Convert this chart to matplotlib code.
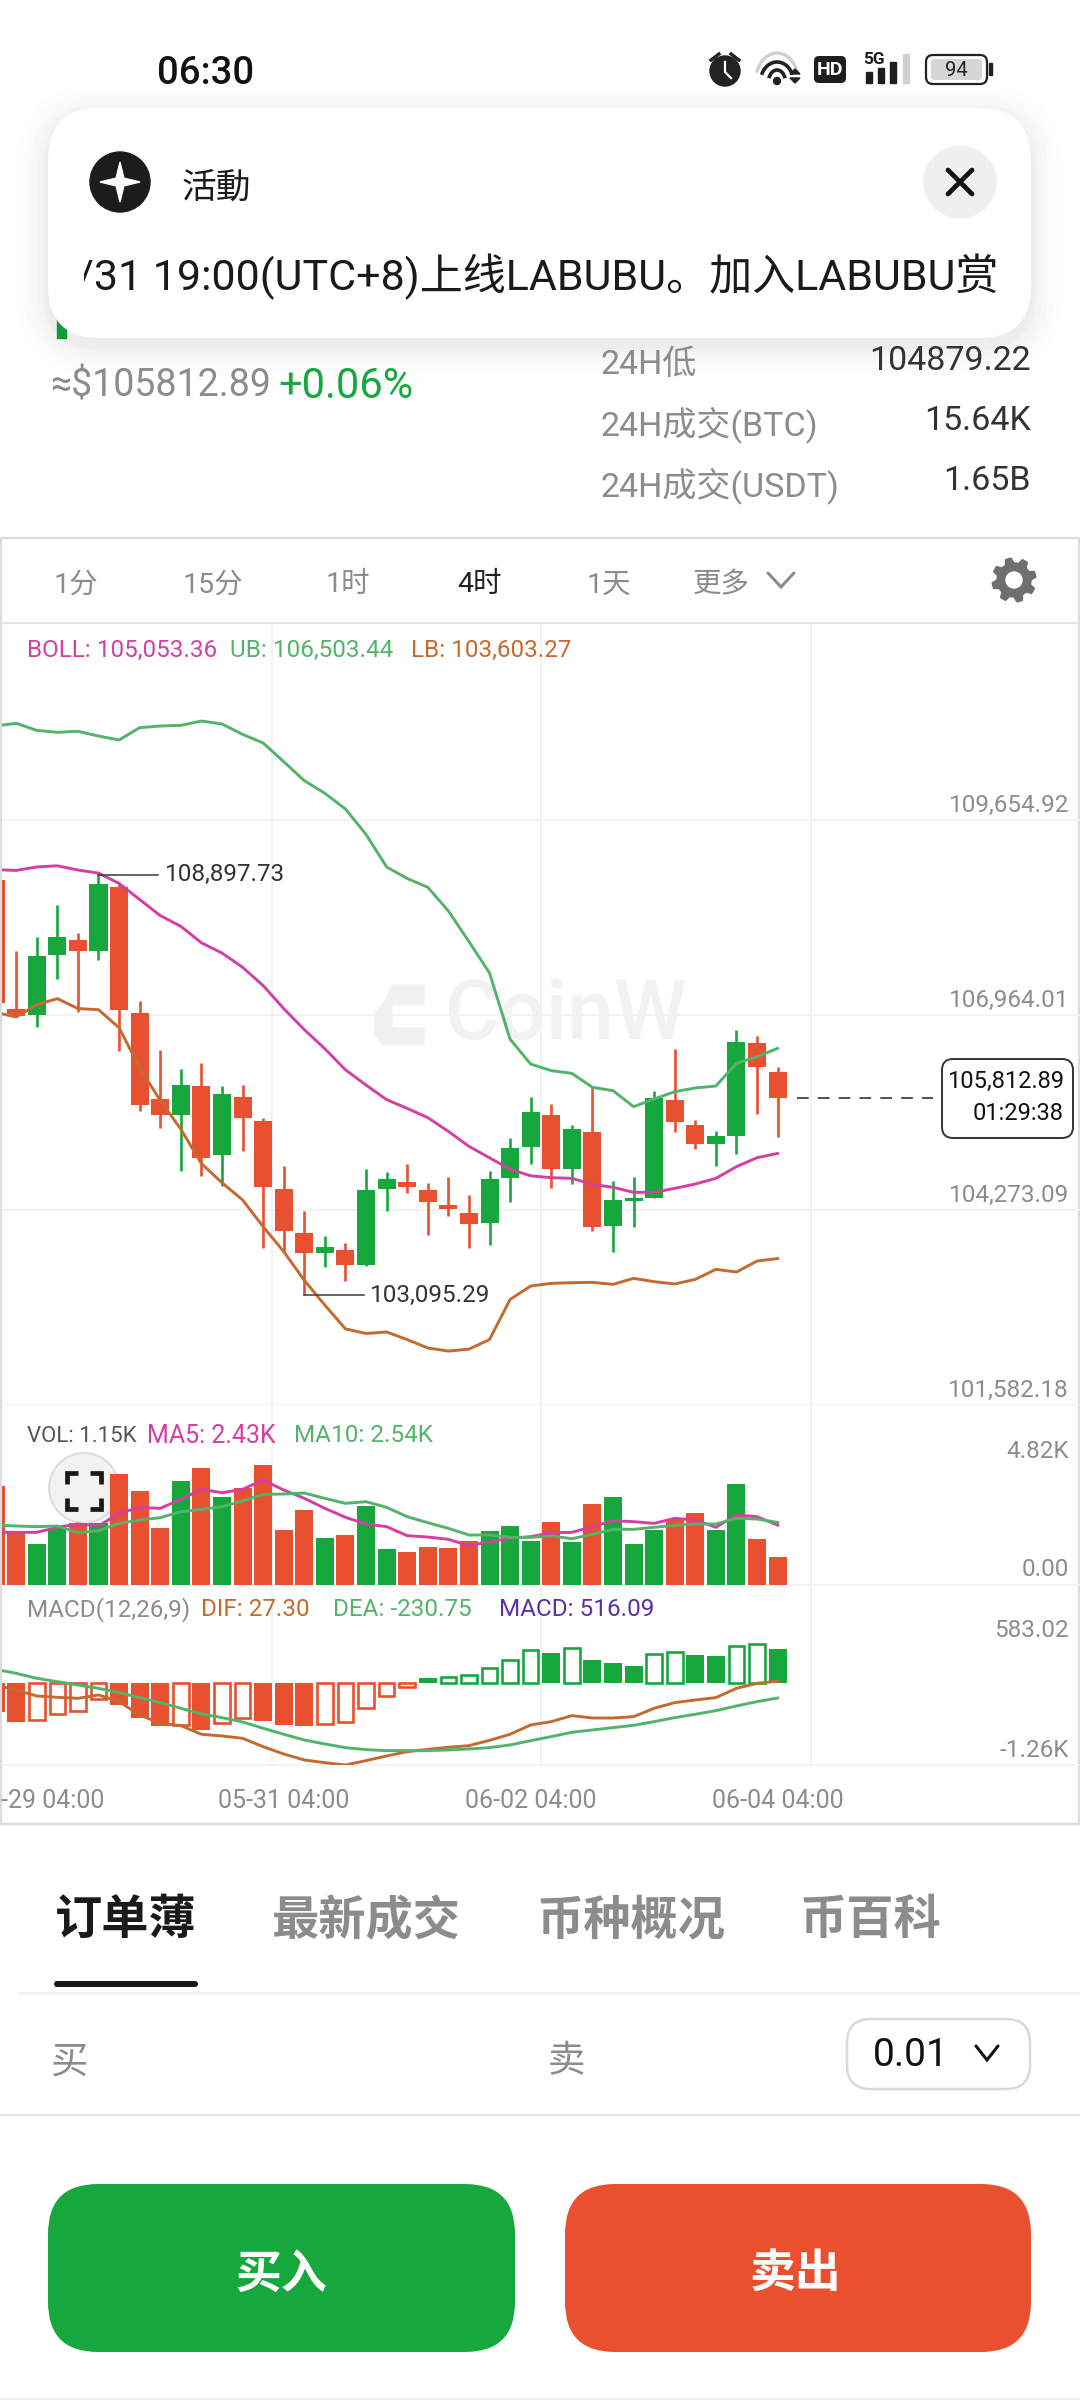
import numpy as np
import matplotlib
matplotlib.use('Agg')
import matplotlib.pyplot as plt
from matplotlib.patches import FancyBboxPatch, Circle, Polygon, Rectangle, Arc

plt.rcParams['font.family'] = ['Roboto', 'Noto Sans CJK SC', 'DejaVu Sans']

# candles, 4h
opens = [108822, 107053, 106958, 107792, 107993, 107845, 108737, 106989, 105801, 105585,
         105981, 105030, 105833, 105495, 104566, 103953, 103678, 103715, 103509, 104560,
         104666, 104550, 104344, 104238, 104090, 104719, 105136, 105584, 104839, 105349,
         104052, 104397, 104443, 105786, 105446, 105188, 105299, 106582, 106173]
highs = [108822, 107845, 108046, 108479, 108098, 108897.73, 108769, 107164, 106477, 106218,
         106298, 105981, 105997, 105548, 104882, 104264, 103921, 103816, 104845, 104798,
         104903, 104645, 104734, 104476, 104808, 105263, 105838, 105731, 105446, 105952,
         104673, 104733, 105920, 106495, 105515, 105359, 106752, 106679, 106242]
lows = [107132, 106931, 106805, 107459, 107000, 107729, 106472, 105643, 105400, 104808,
        104740, 104608, 105083, 103742, 103673, 103095.29, 103488, 103298, 103499, 104254,
        104502, 103932, 104196, 103752, 103784, 104386, 104914, 104572, 104627, 103988,
        103689, 104034, 104443, 105354, 105119, 104880, 105046, 105593, 105285]
closes = [107132, 106947, 107782, 108035, 107850, 108774, 107037, 105717, 105585, 105997,
          104993, 105870, 105537, 104587, 103985, 103684, 103763, 103509, 104550, 104703,
          104597, 104386, 104291, 104085, 104703, 105125, 105627, 104843, 105386, 104043,
          104411, 104439, 105823, 105487, 105188, 105294, 106591, 106246, 105812.89]

boll_up = [110952, 110989, 110892, 110865, 110879, 110814, 110759, 110929, 110952, 110961,
           111021, 110980, 110837, 110718, 110460, 110198, 110023, 109807, 109456, 109007,
           108848, 108727, 108400, 107977, 107544, 106630, 106287, 106196, 106159, 105966,
           105920, 105699, 105805, 105906, 105957, 105984, 106297, 106389, 106503.44]
boll_mid = [108970, 108959, 109007, 109023, 108965, 108922, 108780, 108558, 108336, 108188,
            107961, 107819, 107623, 107370, 107053, 106762, 106498, 106208, 105997, 105796,
            105675, 105548, 105358, 105152, 104993, 104835, 104745, 104719, 104710, 104627,
            104586, 104517, 104517, 104572, 104632, 104710, 104871, 104995, 105053.36]
boll_low = [107000, 106937, 107106, 107190, 107053, 107037, 106789, 106234, 105785, 105389,
            104914, 104650, 104412, 104043, 103699, 103303, 102960, 102633, 102569, 102590,
            102485, 102369, 102326, 102353, 102485, 103039, 103224, 103261, 103270, 103275,
            103247, 103330, 103284, 103252, 103316, 103454, 103417, 103569, 103603.27]

volume = [4018, 2124, 1651, 2300, 2503, 2503, 4505, 3802, 2300, 4208,
          4763, 3572, 3951, 4871, 2232, 3044, 1908, 2043, 3207, 1461,
          1353, 1542, 1488, 1799, 2205, 2408, 1799, 2544, 1759, 3274,
          3572, 1664, 2246, 2665, 2936, 2246, 4100, 1867, 1150]
vol_ma5 = [2138, 2138, 2138, 2341, 2476, 2395, 2909, 3152, 3112, 3477,
           3883, 3748, 3883, 4262, 3856, 3518, 3112, 2747, 2476, 2368,
           2002, 1948, 1854, 1597, 1759, 1894, 1962, 2124, 2138, 2368,
           2611, 2571, 2503, 2706, 2638, 2341, 2841, 2774, 2430]
vol_ma10 = [2435, 2395, 2368, 2395, 2124, 2205, 2503, 2638, 2733, 2977,
            3071, 3180, 3410, 3680, 3694, 3734, 3518, 3315, 3383, 3152,
            2774, 2530, 2300, 2030, 2030, 1935, 1935, 1989, 1881, 2057,
            2260, 2260, 2341, 2422, 2476, 2476, 2706, 2679, 2540]

macd = [-440, -594, -568, -481, -430, -251, -338, -543, -660, -650,
        -722, -620, -543, -584, -645, -660, -635, -604, -384, -200,
        -67, 72, 97, 123, 225, 353, 507, 456, 532, 353,
        302, 266, 440, 481, 435, 420, 573, 599, 516.09]
macd_hollow = [0, 0, 1, 1, 1, 1, 0, 0, 0, 1,
               0, 1, 1, 0, 0, 0, 1, 1, 1, 1,
               1, 0, 1, 1, 1, 1, 1, 0, 1, 0,
               0, 0, 1, 1, 0, 0, 1, 1, 0]
dif = [-31, -108, -200, -220, -236, -184, -287, -492, -620, -655,
       -788, -814, -850, -978, -1091, -1183, -1224, -1260, -1193, -1121,
       -1055, -1019, -988, -963, -881, -788, -645, -594, -502, -538,
       -538, -517, -389, -302, -261, -225, -82, -5, 27.30]
dea = [210, 148, 72, 20, -31, -82, -148, -225, -302, -389,
       -476, -532, -599, -696, -788, -876, -937, -993, -1024, -1039,
       -1039, -1039, -1029, -1014, -993, -952, -886, -824, -758, -722,
       -686, -650, -594, -532, -481, -425, -353, -287, -230.75]

price_ticks = [109654.92, 106964.01, 104273.09, 101582.18]
vol_ticks = [4820, 0]
vol_tick_labels = ['4.82K', '0.00']
macd_ticks = [583.02, -1260]
macd_tick_labels = ['583.02', '-1.26K']
date_idx = [14, 26, 38]
date_labels = ['05-31 04:00', '06-02 04:00', '06-04 04:00']
first_date = '-29 04:00'  # scrolled off the left edge in the app
tabs = ['1分', '15分', '1时', '4时', '1天', '更多']

GREEN = '#16a83c'
RED = '#e9502f'
C_MID = '#d4409f'
C_UP = '#52b36a'
C_LOW = '#c46a2f'
C_PURPLE = '#5b2fa6'
GRAY = '#8c8c8c'
DARK = '#333333'
GRID = '#f2f2f2'
FS = 17.5
LW = 2.1
W, H = 1080, 2400
BODY = 0.875
# candle i sits at pixel -4.4 + 20.58 * i
XL, XR = (2 + 4.4) / 20.58, (1080 + 4.4) / 20.58

fig = plt.figure(figsize=(W / 100, H / 100), dpi=100, facecolor='white')


def px_axes(x0, y0, x1, y1, z):
    a = fig.add_axes([x0 / W, 1 - y1 / H, (x1 - x0) / W, (y1 - y0) / H], zorder=z)
    a.patch.set_visible(False)
    for s in a.spines.values():
        s.set_visible(False)
    a.set_xticks([])
    a.set_yticks([])
    return a


def rbox(a, x0, y0, x1, y1, r, **kw):
    p = FancyBboxPatch((x0 + r, y0 + r), x1 - x0 - 2 * r, y1 - y0 - 2 * r,
                       boxstyle=f'round,pad={r},rounding_size={r}', **kw)
    a.add_patch(p)
    return p


def ytick(a, v, label):
    a.annotate(label, xy=(1, v), xycoords=('axes fraction', 'data'), xytext=(-11, 15),
               textcoords='offset pixels', ha='right', va='center', color=GRAY, fontsize=FS)


def chevron(a, x, y, w, h, color, lw):
    a.plot([x - w, x, x + w], [y - h, y + h, y - h], color=color, lw=lw, solid_capstyle='round',
           solid_joinstyle='miter')


ui = px_axes(0, 0, W, H, 0)
ui.set_xlim(0, W)
ui.set_ylim(H, 0)
top = px_axes(0, 0, W, H, 5)
top.set_xlim(0, W)
top.set_ylim(H, 0)

# ---------- page under the chart ----------
ui.add_patch(Rectangle((57, 318), 9, 20, color=GREEN))
ui.plot([1, 1079, 1079, 1, 1], [538, 538, 1824, 1824, 538], color='#dcdcdc', lw=1.6)
ui.plot([1, 1079], [623, 623], color='#e2e2e2', lw=1.4)
for gx in [272, 541, 811]:
    ui.plot([gx, gx], [625, 1765], color=GRID, lw=1.4)
for gy in [1585, 1765]:
    ui.plot([2, 1079], [gy, gy], color=GRID, lw=1.4)

# watermark
ui.add_patch(Polygon([(424, 985), (392, 985), (384, 1003), (375, 1012), (375, 1036), (384, 1045), (424, 1045),
                      (424, 1028), (392, 1028), (392, 1005), (424, 1005)], closed=True, color='#f1f1f1'))
ui.text(445, 1016, 'CoinW', fontsize=60, color='#f2f2f2', ha='left', va='center', fontweight='medium')

# fullscreen button sits under the volume bars
ui.add_patch(Circle((84, 1488), 35, facecolor='#f2f2f2', edgecolor='#dcdcdc', lw=1.4))

# ---------- kline ----------
ax = px_axes(2, 625, 1080, 1405, 1)
ax.set_xlim(XL, XR)
ax.set_ylim(101582.18, 112346)
idx = np.arange(len(closes))
opens, highs, lows, closes = map(np.array, (opens, highs, lows, closes))
cols = [GREEN if c >= o else RED for o, c in zip(opens, closes)]
for v in price_ticks:
    ax.axhline(v, color=GRID, lw=1.4, zorder=0)
    ytick(ax, v, f'{v:,.2f}')
ax.vlines(idx, lows, highs, colors=cols, lw=1.9, zorder=2)
ax.bar(idx, np.abs(closes - opens), BODY, bottom=np.minimum(opens, closes), color=cols, zorder=3)
ax.plot(idx, boll_up, color=C_UP, lw=LW, zorder=4, solid_joinstyle='round')
ax.plot(idx, boll_mid, color=C_MID, lw=LW, zorder=4, solid_joinstyle='round')
ax.plot(idx, boll_low, color=C_LOW, lw=LW, zorder=4, solid_joinstyle='round')

# high / low marks
hi = int(np.argmax(highs))
lo = int(np.argmin(lows))
ax.plot([hi, hi + 2.89], [highs[hi]] * 2, color='#3a3a3a', lw=1.1, zorder=5)
ax.text(hi + 3.23, highs[hi], f'{highs[hi]:,.2f}', color='#333333', fontsize=FS, va='center', ha='left')
ax.plot([lo, lo + 2.9], [lows[lo]] * 2, color='#3a3a3a', lw=1.1, zorder=5)
ax.text(lo + 3.2, lows[lo], f'{lows[lo]:,.2f}', color='#333333', fontsize=FS, va='center', ha='left')

# last price
ax.plot([38.95, 45.55], [closes[-1]] * 2, color=DARK, lw=1.2, dashes=(7, 5.5), zorder=5)
rbox(top, 942, 1059, 1073, 1138, 11, facecolor='white', edgecolor=DARK, lw=1.4)
top.text(1064, 1081, f'{closes[-1]:,.2f}', color='#111111', fontsize=17, ha='right', va='center')
top.text(1064, 1114, '01:29:38', color='#111111', fontsize=17, ha='right', va='center')

for label, color, x in [('BOLL: 105,053.36', C_MID, 27), ('UB: 106,503.44', C_UP, 230), ('LB: 103,603.27', C_LOW, 411)]:
    top.text(x, 650, label, color=color, fontsize=FS, va='center', ha='left')

# ---------- volume ----------
ax_v = px_axes(2, 1405, 1080, 1585, 2)
ax_v.set_xlim(XL, XR)
ax_v.set_ylim(0, 7308)
ax_v.bar(idx, volume, BODY, color=cols, zorder=2)
ax_v.plot(idx, vol_ma5, color=C_MID, lw=LW, zorder=3)
ax_v.plot(idx, vol_ma10, color=C_UP, lw=LW, zorder=3)
for v, label in zip(vol_ticks, vol_tick_labels):
    ytick(ax_v, v, label)
for label, color, x, fs in [('VOL: 1.15K', '#555555', 27, 16), ('MA5: 2.43K', C_MID, 147, 18),
                            ('MA10: 2.54K', C_UP, 294, FS)]:
    top.text(x, 1436, label, color=color, fontsize=fs, va='center', ha='left')

# fullscreen corners
for cx, sx in [(67, 1), (101, -1)]:
    for cy, sy in [(1473, 1), (1509, -1)]:
        top.plot([cx + sx * 11, cx, cx], [cy, cy, cy + sy * 11], color='#1a1a1a', lw=3.4,
                 solid_capstyle='butt', solid_joinstyle='miter')

# ---------- macd ----------
ax_m = px_axes(2, 1585, 1080, 1765, 2)
ax_m.set_xlim(XL, XR)
ax_m.set_ylim(-1260, 1505)
for i, (v, h) in enumerate(zip(macd, macd_hollow)):
    c = GREEN if v > 0 else RED
    if h:
        ax_m.bar(i, v, 0.758, facecolor='none', edgecolor=c, lw=1.9, zorder=2)
    else:
        ax_m.bar(i, v, BODY, color=c, zorder=2)
ax_m.plot(idx, dif, color=C_LOW, lw=LW, zorder=3)
ax_m.plot(idx, dea, color=C_UP, lw=LW, zorder=3)
for v, label in zip(macd_ticks, macd_tick_labels):
    ytick(ax_m, v, label)
ax_m.set_xticks(date_idx)
ax_m.set_xticklabels(date_labels, color=GRAY, fontsize=18)
ax_m.tick_params(axis='x', length=0, pad=17)
top.text(104, 1801, first_date, color=GRAY, fontsize=18, ha='right', va='center')
for label, color, x in [('MACD(12,26,9)', GRAY, 27), ('DIF: 27.30', C_LOW, 201),
                        ('DEA: -230.75', C_UP, 333), ('MACD: 516.09', C_PURPLE, 499)]:
    top.text(x, 1610, label, color=color, fontsize=FS, va='center', ha='left')

# ---------- header ----------
for tab, x in zip(tabs, [76, 213, 348, 479, 609, 721]):
    top.text(x, 585, tab, color='#222222' if tab == '4时' else GRAY, fontsize=20.5, ha='center', va='center')
chevron(top, 781, 580, 13, 7, '#8c8c8c', 2.2)
ang = np.linspace(0, 2 * np.pi, 48, endpoint=False) + np.pi / 8
rad = np.where((np.arange(48) % 6) < 3, 22, 17)
top.add_patch(Polygon(np.c_[1014 + rad * np.cos(ang), 580 + rad * np.sin(ang)], closed=True, color='#6f6f6f'))
top.add_patch(Circle((1014, 580), 8, color='white'))

top.text(600, 365, '24H低', color=GRAY, fontsize=24.5, va='center', ha='left')
top.text(600, 425, '24H成交(BTC)', color=GRAY, fontsize=24.5, va='center', ha='left')
top.text(600, 486, '24H成交(USDT)', color=GRAY, fontsize=24.5, va='center', ha='left')
top.text(1031, 361, '104879.22', color=DARK, fontsize=24.5, va='center', ha='right')
top.text(1031, 421, '15.64K', color=DARK, fontsize=24.5, va='center', ha='right')
top.text(1031, 481, '1.65B', color=DARK, fontsize=24.5, va='center', ha='right')
top.text(50, 386, '≈$105812.89', color=GRAY, fontsize=27, va='center', ha='left')
top.text(278, 386, '+0.06%', color=GREEN, fontsize=30, va='center', ha='left')

# notification card
for grow, alpha in zip([32, 24, 17, 11, 6, 3], [0.006, 0.008, 0.010, 0.012, 0.014, 0.016]):
    rbox(top, 48 - grow, 108 - grow + 8, 1031 + grow, 338 + grow + 8, 52 + grow, facecolor='black', edgecolor='none',
         alpha=alpha)
rbox(top, 48, 108, 1031, 338, 52, facecolor='white', edgecolor='none')
top.add_patch(Circle((120, 182), 30, color='#1c1c1c'))
ang = np.linspace(0, 2 * np.pi, 8, endpoint=False)
rad = np.array([20, 5.5] * 4)
top.add_patch(Polygon(np.c_[120 + rad * np.sin(ang), 182 + rad * np.cos(ang)], closed=True, color='white'))
top.text(182, 188, '活動', color='#1a1a1a', fontsize=25, va='center', ha='left')
top.add_patch(Circle((960, 182), 36, color='#efefef'))
top.plot([948, 972], [170, 194], color='#111111', lw=3.4, solid_capstyle='round')
top.plot([948, 972], [194, 170], color='#111111', lw=3.4, solid_capstyle='round')
t = top.text(998, 277, '5/31 19:00(UTC+8)上线LABUBU。加入LABUBU赏', color='#1a1a1a', fontsize=31, va='center',
             ha='right')
t.set_clip_path(Rectangle((84, 230), 920, 90, transform=top.transData))
t.set_clip_on(True)

# status bar
top.text(157, 73, '06:30', color='#111111', fontsize=27.5, va='center', ha='left', fontweight='medium')
top.add_patch(Circle((725, 71), 15, color='#222222'))
top.plot([725, 725, 731], [62, 72, 78], color='white', lw=1.6)
top.plot([711, 719], [60, 54], color='#222222', lw=2.4)
top.plot([731, 739], [54, 60], color='#222222', lw=2.4)
top.add_patch(Arc((777, 82), 43, 58, theta1=205, theta2=335, color='#cfcfcf', lw=2.4))
top.add_patch(Arc((777, 82), 33, 40, theta1=205, theta2=335, color='#222222', lw=2.6))
top.add_patch(Arc((777, 82), 17, 24, theta1=205, theta2=335, color='#222222', lw=2.6))
top.add_patch(Circle((777, 81), 3.5, color='#222222'))
top.add_patch(Polygon([(790, 74), (800, 74), (795, 69)], closed=True, color='#222222'))
top.add_patch(Polygon([(790, 78), (800, 78), (795, 83)], closed=True, color='#222222'))
rbox(top, 814, 56, 846, 83, 5, facecolor='#1e1e1e', edgecolor='none')
top.text(830, 70, 'HD', color='white', fontsize=14, fontweight='bold', ha='center', va='center')
top.text(874, 60, '5G', color='#1e1e1e', fontsize=12.5, fontweight='bold', ha='center', va='center')
for x0, y0, c in [(866, 72, '#1e1e1e'), (878, 68, '#1e1e1e'), (890, 62, '#1e1e1e'), (903, 54, '#d0d0d0')]:
    top.add_patch(Rectangle((x0, y0), 6, 83 - y0, color=c))
rbox(top, 926, 55, 987, 84, 7, facecolor='white', edgecolor='#222222', lw=1.6)
rbox(top, 931, 59, 982, 80, 3, facecolor='#d6d6d6', edgecolor='none')
top.add_patch(Rectangle((989, 63), 3, 12, color='#222222'))
top.text(956, 70, '94', color='#222222', fontsize=14.5, ha='center', va='center')

# ---------- below the chart ----------
for label, x, c in [('订单薄', 126, '#1a1a1a'), ('最新成交', 366, GRAY), ('币种概况', 631, GRAY), ('币百科', 871, GRAY)]:
    top.text(x, 1921, label, color=c, fontsize=34, ha='center', va='center', fontweight='bold')
rbox(top, 54, 1981, 198, 1987, 3, facecolor='#1a1a1a', edgecolor='none')
top.plot([18, 1080], [1993, 1993], color='#f0f0f0', lw=1.4)
top.text(69, 2062, '买', color=GRAY, fontsize=27, ha='center', va='center')
top.text(566, 2062, '卖', color=GRAY, fontsize=27, ha='center', va='center')
rbox(top, 847, 2019, 1030, 2089, 24, facecolor='white', edgecolor='#d9d9d9', lw=1.8)
top.text(873, 2056, '0.01', color='#111111', fontsize=28, ha='left', va='center')
chevron(top, 987, 2053, 11, 7, '#111111', 2.2)
top.plot([0, 1080], [2115, 2115], color='#e6e6e6', lw=1.6)
rbox(top, 48, 2184, 515, 2352, 50, facecolor=GREEN, edgecolor='none')
rbox(top, 565, 2184, 1031, 2352, 50, facecolor=RED, edgecolor='none')
top.text(281, 2275, '买入', color='white', fontsize=33, ha='center', va='center', fontweight='bold')
top.text(795, 2275, '卖出', color='white', fontsize=33, ha='center', va='center', fontweight='bold')
top.plot([0, 1080], [2399, 2399], color='#eeeeee', lw=1.4)

fig.savefig('out.png', dpi=100)
